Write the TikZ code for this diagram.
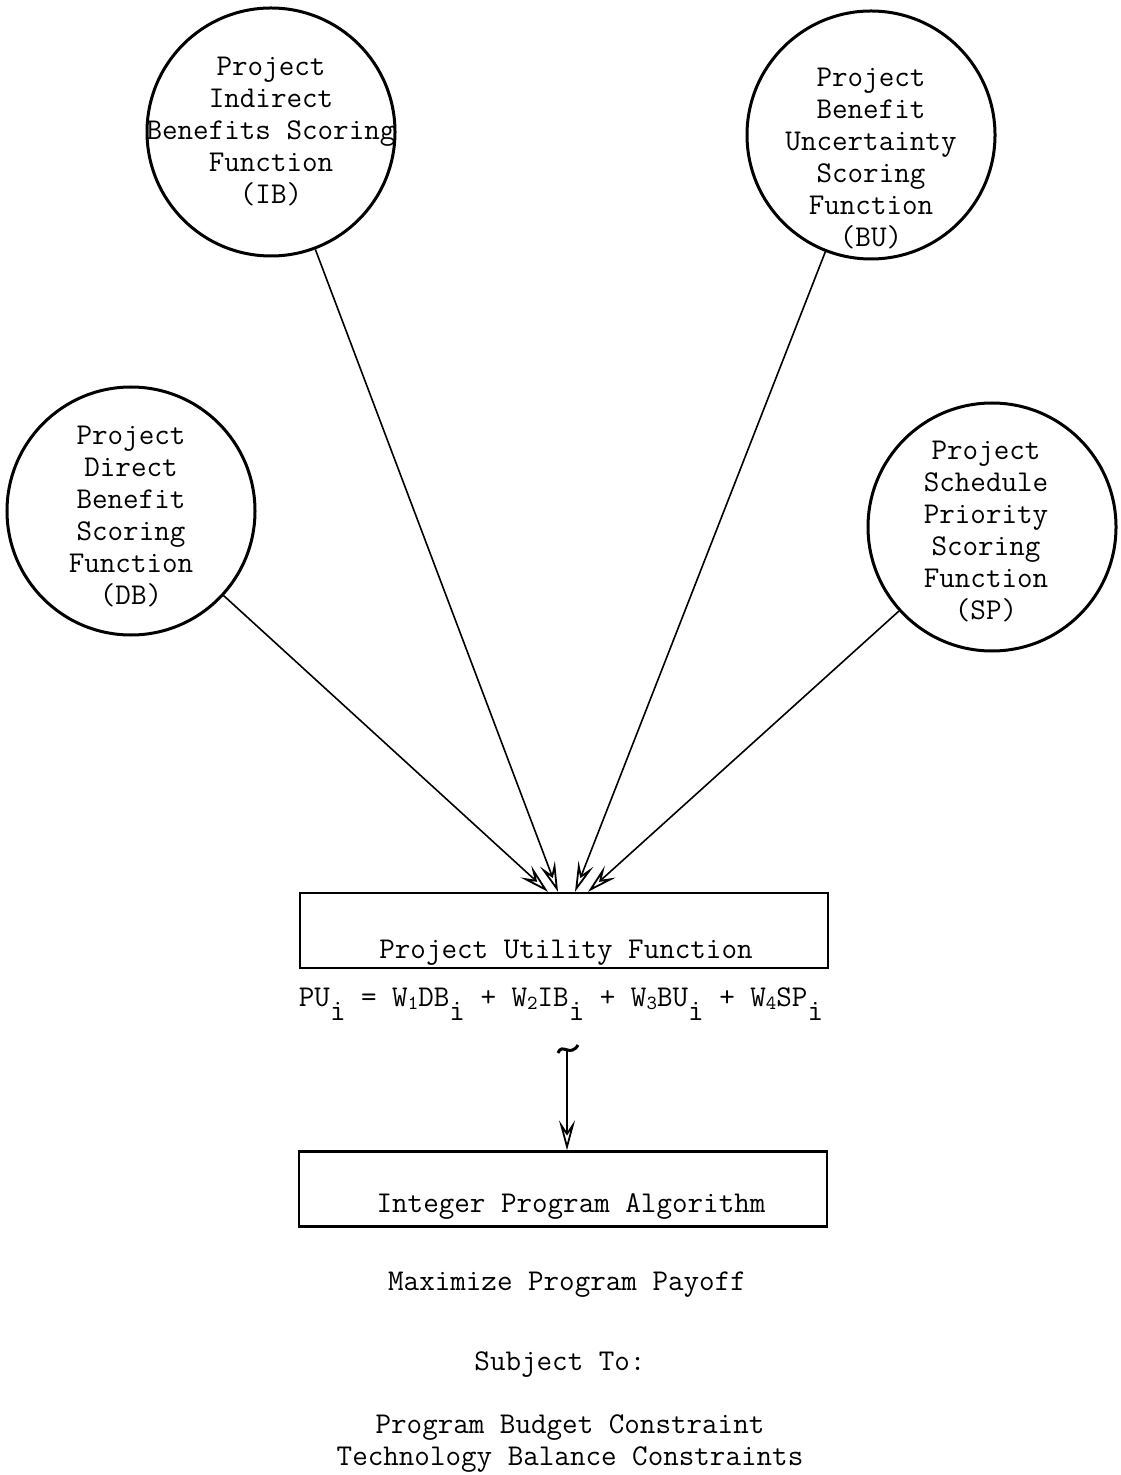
\documentclass[tikz,border=0pt]{standalone}
\usepackage{fontspec}
\usetikzlibrary{arrows.meta,positioning}
\newcommand{\isub}{\raisebox{-1.1ex}{i}}
\newcommand{\wsub}[1]{\raisebox{-0.3ex}{\fontsize{10}{10}\selectfont#1}}

\begin{document}
\begin{tikzpicture}[x=0.5pt, y=-0.5pt,
    every node/.style={font=\ttfamily\fontsize{15.1}{16}\selectfont},
    scorefn/.style={circle, draw, line width=1.5pt, minimum size=124pt, inner sep=0pt},
    fntext/.style={align=center, inner sep=0pt},
    fnbox/.style={draw, line width=1.2pt, minimum width=264pt, minimum height=37.5pt, inner sep=0pt},
    feed/.style={line width=0.8pt, -{Stealth[open, length=15pt, width=8pt, inset=6pt, line width=0.9pt]}}]
  \useasboundingbox (0,0) rectangle (1120,1475);
  % 評価関数
  \node[scorefn] (ib) at (271,132) {};
  \node[fntext] (ib text) at (271,132) {Project\\Indirect\\Benefits Scoring\\Function\\(IB)};
  \node[scorefn] (bu) at (871,135) {};
  \node[fntext] (bu text) at (871,159) {Project\\Benefit\\Uncertainty\\Scoring\\Function\\(BU)};
  \node[scorefn] (db) at (131,511) {};
  \node[fntext] (db text) at (131,517) {Project\\Direct\\Benefit\\Scoring\\Function\\(DB)};
  \node[scorefn] (sp) at (992,527) {};
  \node[fntext] (sp text) at (986,532) {Project\\Schedule\\Priority\\Scoring\\Function\\(SP)};
  % 効用関数
  \node[fnbox] (pu) at (564,930.5) {};
  \node[anchor=base, inner sep=0pt] (pu text) at (566,958) {Project Utility Function};
  \node[anchor=base, inner sep=0pt] (pu eq) at (561,1006) {PU\isub{} = W\wsub{1}DB\isub{} + W\wsub{2}IB\isub{} + W\wsub{3}BU\isub{} + W\wsub{4}SP\isub{}};
  \coordinate[xshift=-8pt] (in db) at (pu.north);
  \coordinate[xshift=-3pt] (in ib) at (pu.north);
  \coordinate[xshift=5.5pt] (in bu) at (pu.north);
  \coordinate[xshift=12pt] (in sp) at (pu.north);
  \draw[feed] (db) -- (in db);
  \draw[feed] (ib) -- (in ib);
  \draw[feed] (bu) -- (in bu);
  \draw[feed] (sp) -- (in sp);
  % 整数計画
  \node[fnbox] (ip) at (563,1189) {};
  \node[anchor=base, inner sep=0pt] (ip text) at (571,1212) {Integer Program Algorithm};
  \coordinate (tail) at (567,1050);
  \draw[line width=1.5pt] (558,1053) .. controls (562,1042) and (570,1058) .. (578,1045);
  \draw[feed] (tail) -- (tail |- ip.north);
  % 目的と制約
  \node[anchor=base, inner sep=0pt] (goal) at (567,1290) {Maximize Program Payoff};
  \node[anchor=base, inner sep=0pt] (subj) at (560,1370) {Subject To:};
  \node[anchor=north, align=center, inner sep=0pt] (limits) at (570,1414) {Program Budget Constraint\\Technology Balance Constraints};
\end{tikzpicture}
\end{document}
